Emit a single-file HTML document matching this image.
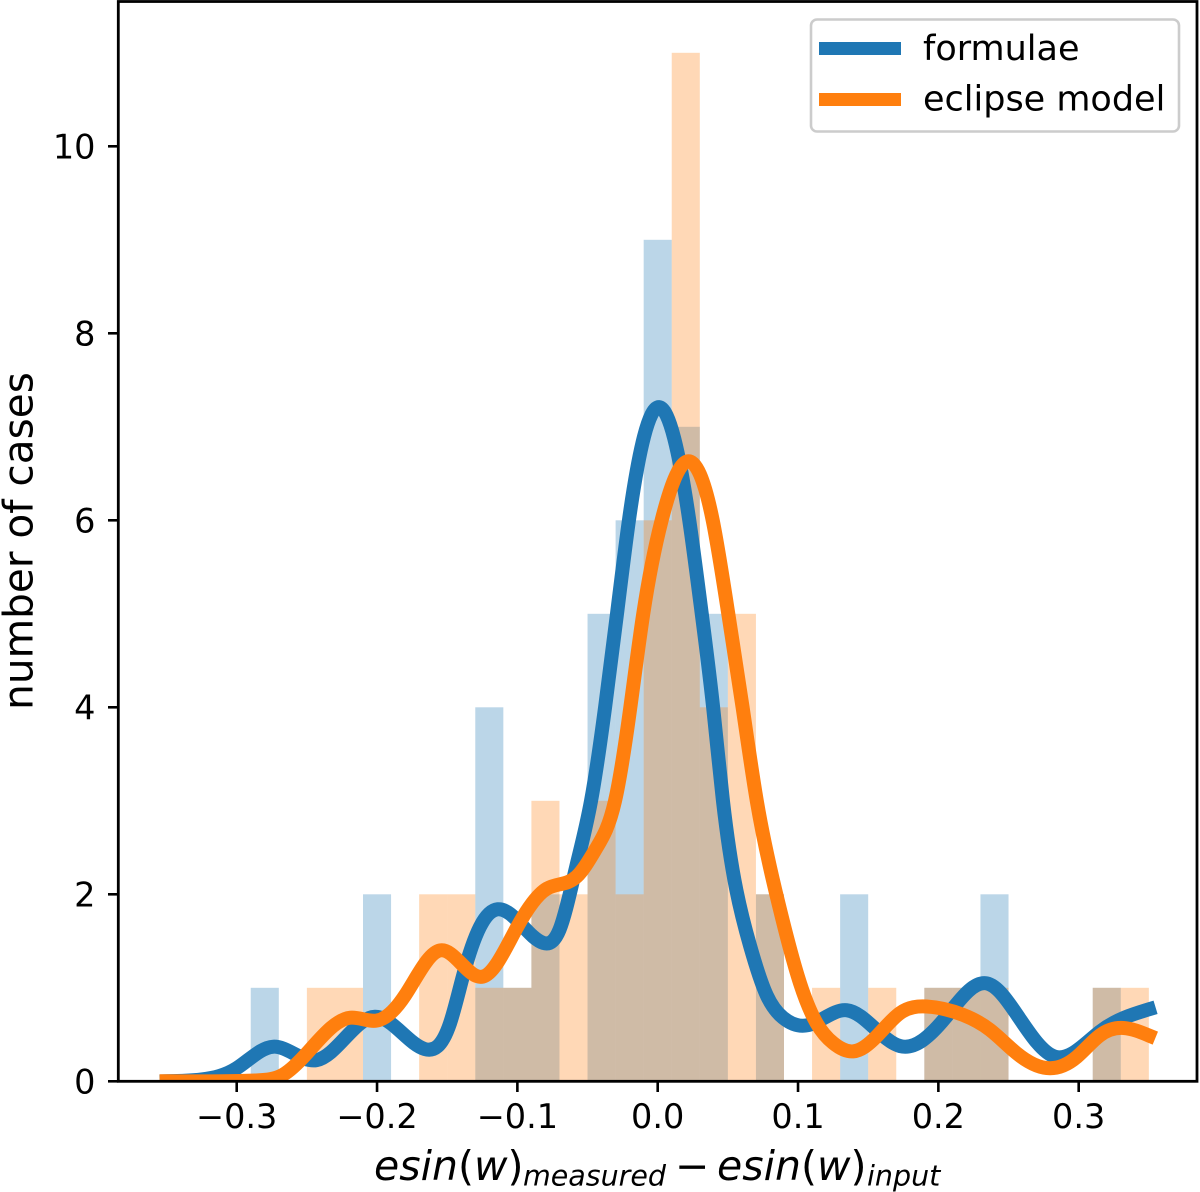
<!DOCTYPE html>
<html>
<head>
<meta charset="utf-8">
<title>Histogram of esin(w) residuals</title>
<style>
html,body{margin:0;padding:0;background:#fff;}
svg{display:block;font-family:"DejaVu Sans","Liberation Sans",sans-serif;}
</style>
</head>
<body>
<svg id="chart" width="1200" height="1192" viewBox="0 0 1200 1192" xmlns="http://www.w3.org/2000/svg">
  <rect x="0" y="0" width="1200" height="1192" fill="#ffffff"/>
  <defs>
    <clipPath id="plot-clip"><rect x="118.3" y="1.5" width="1078.7" height="1079.8"/></clipPath>
  </defs>
  <g id="bars"></g>
  <g id="curves" clip-path="url(#plot-clip)"></g>
  <g id="ticks"></g>
  <rect x="118.3" y="1.5" width="1078.7" height="1079.8" fill="none" stroke="#000" stroke-width="2.8"/>
  <text transform="translate(32.5,541) rotate(-90)" text-anchor="middle" font-size="40.6" fill="#000">number of cases</text>
  <text y="1180" font-size="41" fill="#000"><tspan x="374" font-style="italic">esin</tspan><tspan>(</tspan><tspan font-style="italic">w</tspan><tspan>)</tspan><tspan x="523" y="1185.5" font-size="28.5" font-style="italic">measured</tspan><tspan x="675" y="1180">−</tspan><tspan x="717" y="1180" font-style="italic">esin</tspan><tspan>(</tspan><tspan font-style="italic">w</tspan><tspan>)</tspan><tspan x="867" y="1185.5" font-size="28.5" font-style="italic">input</tspan></text>
  <g>
    <rect x="811" y="19.5" width="368" height="112" rx="6" ry="6" fill="#ffffff" fill-opacity="0.8" stroke="#cccccc" stroke-width="2.6"/>
    <rect x="819" y="42" width="82" height="13" fill="#1f77b4"/>
    <text x="923" y="60" font-size="35" fill="#000">formulae</text>
    <rect x="819" y="93" width="82" height="13" fill="#ff7f0e"/>
    <text x="923" y="110.5" font-size="35" fill="#000">eclipse model</text>
  </g>
</svg>
<script>
// Histogram bins: left edge of each 0.02-wide bin
const binLefts = [-0.35,-0.33,-0.31,-0.29,-0.27,-0.25,-0.23,-0.21,-0.19,-0.17,-0.15,-0.13,-0.11,-0.09,-0.07,-0.05,-0.03,-0.01,0.01,0.03,0.05,0.07,0.09,0.11,0.13,0.15,0.17,0.19,0.21,0.23,0.25,0.27,0.29,0.31,0.33];
const binWidth = 0.02;
const formulaeCounts = [0,0,0,1,0,0,0,2,0,0,0,4,1,2,0,5,6,9,7,5,0,2,0,0,2,0,0,1,1,2,0,0,0,1,0];
const eclipseCounts  = [0,0,0,0,0,1,1,0,0,2,2,1,1,3,2,3,2,6,11,4,5,2,0,1,0,1,0,1,1,1,0,0,0,1,1];

// Density curves
const formulaeX = [-0.35,-0.325,-0.3,-0.274,-0.243,-0.2015,-0.166,-0.148,-0.1387,-0.1267,-0.114,-0.0815,-0.07,-0.058,-0.0475,-0.0375,-0.029,-0.0205,0.001,0.0225,0.0314,0.0395,0.0465,0.056,0.0658,0.0777,0.0893,0.107,0.1347,0.1727,0.205,0.2345,0.2575,0.2832,0.315,0.35];
const formulaeY = [0,0.02,0.14,0.37,0.227,0.69,0.345,0.62,1.13,1.65,1.84,1.48,1.62,2.3,3.0,4.0,5.0,6.0,7.21,6.0,5.0,4.0,3.0,2.05,1.45,0.92,0.68,0.6,0.76,0.377,0.68,1.047,0.68,0.263,0.53,0.77];
const eclipseX = [-0.35,-0.31,-0.285,-0.267,-0.25,-0.219,-0.2,-0.18,-0.155,-0.1245,-0.1005,-0.079,-0.0577,-0.0435,-0.0304,-0.0195,-0.0103,0.0028,0.021,0.0392,0.0503,0.0605,0.0706,0.0845,0.1014,0.1133,0.125,0.1393,0.156,0.1727,0.1917,0.2176,0.2368,0.2558,0.2796,0.2986,0.315,0.332,0.35];
const eclipseY = [0,0,0.01,0.07,0.3,0.68,0.65,0.92,1.4,1.12,1.64,2.06,2.19,2.5,3.0,4.0,5.0,6.0,6.63,6.0,5.0,4.0,3.0,2.0,1.05,0.62,0.41,0.32,0.48,0.73,0.8,0.71,0.55,0.3,0.14,0.26,0.49,0.57,0.49];

// Tick labels
const xTickValues = [-0.3,-0.2,-0.1,0,0.1,0.2,0.3];
const xTickLabels = ["−0.3","−0.2","−0.1","0.0","0.1","0.2","0.3"];
const yTickValues = [0,2,4,6,8,10];
const yTickLabels = ["0","2","4","6","8","10"];

const NS = "http://www.w3.org/2000/svg";
const xScale = v => 657.7 + v * 1403.3;
const yScale = v => 1081.3 - v * 93.5;

const barsGroup = document.getElementById("bars");
function drawBars(counts, color, name) {
  counts.forEach(function (count, i) {
    if (!count) return;
    const rect = document.createElementNS(NS, "rect");
    
    
    rect.setAttribute("x", xScale(binLefts[i]));
    rect.setAttribute("width", xScale(binLefts[i] + binWidth) - xScale(binLefts[i]));
    rect.setAttribute("y", yScale(count));
    rect.setAttribute("height", yScale(0) - yScale(count));
    rect.setAttribute("fill", color);
    rect.setAttribute("fill-opacity", "0.3");
    barsGroup.appendChild(rect);
  });
}
drawBars(formulaeCounts, "#1f77b4", "formulae-bar");
drawBars(eclipseCounts, "#ff7f0e", "eclipse-model-bar");

const curvesGroup = document.getElementById("curves");
// Natural cubic spline through the read values, emitted as Bezier segments in pixel space
function curvePath(xs, ys) {
  const n = xs.length;
  const px = xs.map(xScale), py = ys.map(yScale);
  const h = [];
  for (let i = 0; i < n - 1; i++) h.push(px[i + 1] - px[i]);
  const c = new Array(n).fill(0), d = new Array(n).fill(0), m2 = new Array(n).fill(0);
  for (let i = 1; i < n - 1; i++) {
    const diag = 2 * (h[i - 1] + h[i]) - h[i - 1] * c[i - 1];
    c[i] = h[i] / diag;
    const r = 6 * ((py[i + 1] - py[i]) / h[i] - (py[i] - py[i - 1]) / h[i - 1]);
    d[i] = (r - h[i - 1] * d[i - 1]) / diag;
  }
  for (let i = n - 2; i > 0; i--) m2[i] = d[i] - c[i] * m2[i + 1];
  let path = "M" + px[0].toFixed(2) + " " + py[0].toFixed(2);
  for (let i = 0; i < n - 1; i++) {
    const s = (py[i + 1] - py[i]) / h[i];
    const t0 = s - h[i] * (2 * m2[i] + m2[i + 1]) / 6;
    const t1 = s + h[i] * (m2[i] + 2 * m2[i + 1]) / 6;
    const k = h[i] / 3;
    path += "C" + (px[i] + k).toFixed(2) + " " + (py[i] + t0 * k).toFixed(2) + " " +
            (px[i + 1] - k).toFixed(2) + " " + (py[i + 1] - t1 * k).toFixed(2) + " " +
            px[i + 1].toFixed(2) + " " + py[i + 1].toFixed(2);
  }
  return path;
}
function drawCurve(xs, ys, color, name) {
  const path = document.createElementNS(NS, "path");
  
  
  path.setAttribute("d", curvePath(xs, ys));
  path.setAttribute("fill", "none");
  path.setAttribute("stroke", color);
  path.setAttribute("stroke-width", "14");
  path.setAttribute("stroke-linecap", "square");
  path.setAttribute("stroke-linejoin", "round");
  curvesGroup.appendChild(path);
}
drawCurve(formulaeX, formulaeY, "#1f77b4", "formulae-curve");
drawCurve(eclipseX, eclipseY, "#ff7f0e", "eclipse-model-curve");

const ticksGroup = document.getElementById("ticks");
xTickValues.forEach(function (v, i) {
  const line = document.createElementNS(NS, "line");
  
  
  line.setAttribute("x1", xScale(v));
  line.setAttribute("x2", xScale(v));
  line.setAttribute("y1", 1081.3);
  line.setAttribute("y2", 1092);
  line.setAttribute("stroke", "#000");
  line.setAttribute("stroke-width", "2.6");
  ticksGroup.appendChild(line);
  const label = document.createElementNS(NS, "text");
  
  
  label.setAttribute("x", xScale(v));
  label.setAttribute("y", 1128);
  label.setAttribute("text-anchor", "middle");
  label.setAttribute("font-size", "33.5");
  label.textContent = xTickLabels[i];
  ticksGroup.appendChild(label);
});
yTickValues.forEach(function (v, i) {
  const line = document.createElementNS(NS, "line");
  
  
  line.setAttribute("x1", 108);
  line.setAttribute("x2", 118.3);
  line.setAttribute("y1", yScale(v));
  line.setAttribute("y2", yScale(v));
  line.setAttribute("stroke", "#000");
  line.setAttribute("stroke-width", "2.6");
  ticksGroup.appendChild(line);
  const label = document.createElementNS(NS, "text");
  
  
  label.setAttribute("x", 95.5);
  label.setAttribute("y", yScale(v) + 12.2);
  label.setAttribute("text-anchor", "end");
  label.setAttribute("font-size", "33.5");
  label.textContent = yTickLabels[i];
  ticksGroup.appendChild(label);
});
</script>
</body>
</html>
